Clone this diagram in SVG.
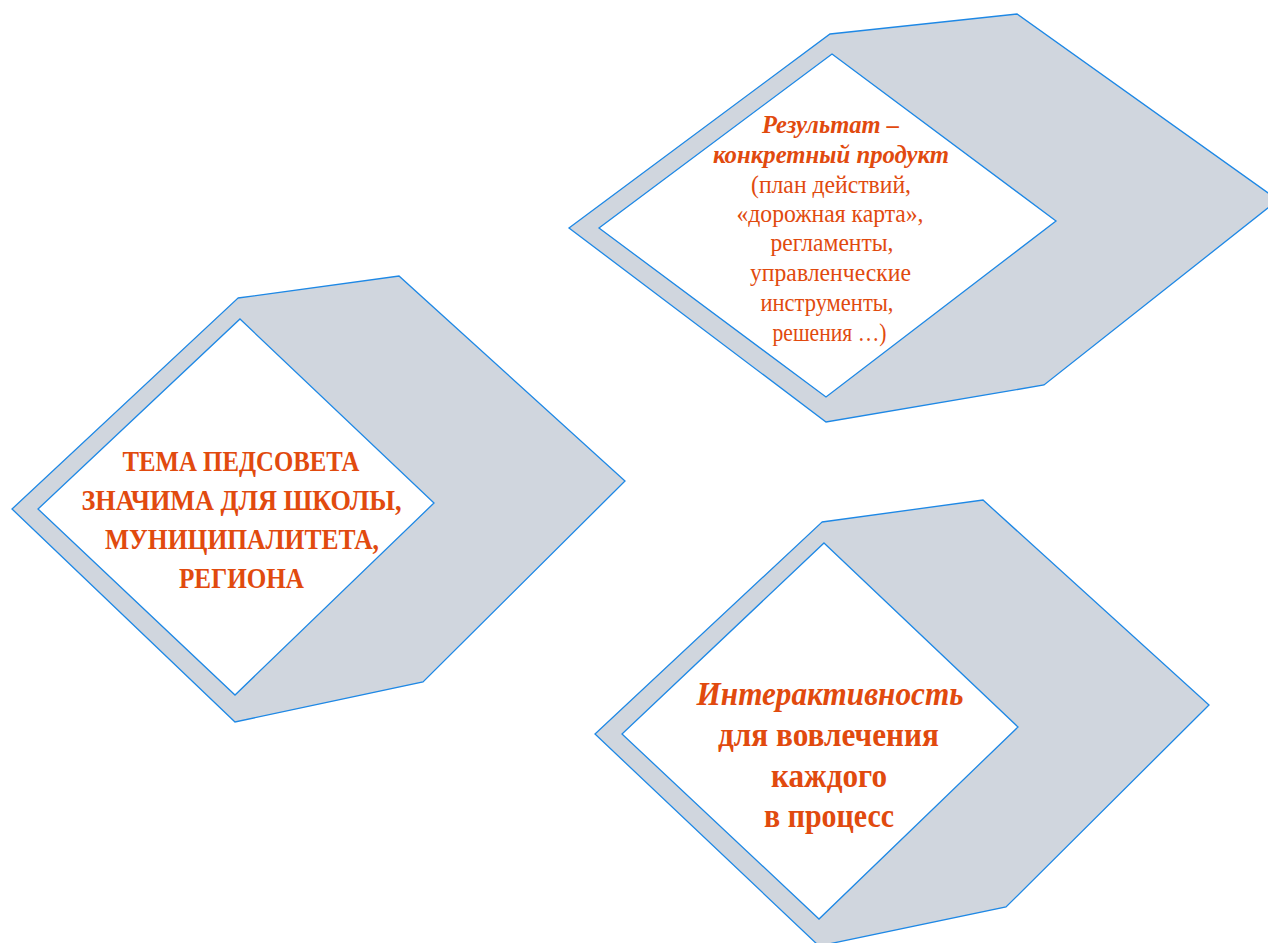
<svg xmlns="http://www.w3.org/2000/svg" width="1268" height="943" viewBox="0 0 1268 943">
  <style>
    .outer { fill: #D0D6DE; stroke: #1E88E5; stroke-width: 1.3; stroke-linejoin: miter; }
    .inner { fill: #FFFFFF; stroke: #1E88E5; stroke-width: 1.3; }
    .t { font-family: "Liberation Serif", "DejaVu Serif", serif; fill: #E14A0E; text-anchor: middle; }
    .b { font-weight: bold; }
    .i { font-style: italic; }
  </style>
  <rect width="1268" height="943" fill="#FFFFFF"/>

  <g id="node-result">
    <polygon class="outer" points="830,34 1017,14 1278,200 1044,385 826,422 569,228"/>
    <polygon class="inner" points="832,54 1056,221 826,397 599,228"/>
    <text class="t b i" font-size="26" x="830.5" y="133" textLength="137" lengthAdjust="spacingAndGlyphs">Результат –</text>
    <text class="t b i" font-size="26" x="831" y="163" textLength="236" lengthAdjust="spacingAndGlyphs">конкретный продукт</text>
    <text class="t" font-size="25.5" x="831" y="193" textLength="160" lengthAdjust="spacingAndGlyphs">(план действий,</text>
    <text class="t" font-size="25.5" x="830" y="222" textLength="187" lengthAdjust="spacingAndGlyphs">«дорожная карта»,</text>
    <text class="t" font-size="25.5" x="832" y="251" textLength="123" lengthAdjust="spacingAndGlyphs">регламенты,</text>
    <text class="t" font-size="25.5" x="830.5" y="281" textLength="161" lengthAdjust="spacingAndGlyphs">управленческие</text>
    <text class="t" font-size="25.5" x="827" y="311" textLength="133" lengthAdjust="spacingAndGlyphs">инструменты,</text>
    <text class="t" font-size="25.5" x="829.5" y="341" textLength="114" lengthAdjust="spacingAndGlyphs">решения …)</text>
  </g>

  <g id="node-topic">
    <polygon class="outer" points="238,298 399,276 625,481 423,682 235,722 12,509"/>
    <polygon class="inner" points="240,319 434,503 235,695 38,509"/>
    <text class="t b" font-size="29.5" x="241" y="471" textLength="237" lengthAdjust="spacingAndGlyphs">ТЕМА ПЕДСОВЕТА</text>
    <text class="t b" font-size="29.5" x="241.5" y="510" textLength="320" lengthAdjust="spacingAndGlyphs">ЗНАЧИМА ДЛЯ ШКОЛЫ,</text>
    <text class="t b" font-size="29.5" x="242" y="549" textLength="274" lengthAdjust="spacingAndGlyphs">МУНИЦИПАЛИТЕТА,</text>
    <text class="t b" font-size="29.5" x="241.5" y="588" textLength="125" lengthAdjust="spacingAndGlyphs">РЕГИОНА</text>
  </g>

  <g id="node-interactive">
    <polygon class="outer" points="822,522 983,500 1209,705 1006,907 819,946 595,734"/>
    <polygon class="inner" points="824,543 1018,727 819,919 622,734"/>
    <text class="t b i" font-size="34" x="830" y="705" textLength="267" lengthAdjust="spacingAndGlyphs">Интерактивность</text>
    <text class="t b" font-size="34" x="828.5" y="746" textLength="221" lengthAdjust="spacingAndGlyphs">для вовлечения</text>
    <text class="t b" font-size="34" x="829" y="787" textLength="116" lengthAdjust="spacingAndGlyphs">каждого</text>
    <text class="t b" font-size="34" x="829" y="827" textLength="130" lengthAdjust="spacingAndGlyphs">в процесс</text>
  </g>

  <g id="connectors"/>
</svg>
